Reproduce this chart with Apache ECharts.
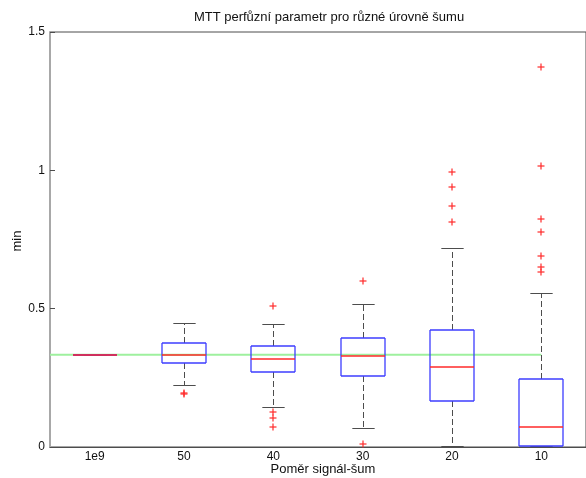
<!DOCTYPE html>
<html>
<head>
<meta charset="utf-8">
<script src="https://cdn.jsdelivr.net/npm/echarts@6/dist/echarts.min.js"></script>
<style>
html,body{margin:0;padding:0;background:#fff;}
#chart{width:586px;height:478px;}
</style>
</head>
<body>
<div id="chart"></div>
<script>
var categories = ['1e9', '50', '40', '30', '20', '10'];
var lowerWhisker = [0.333, 0.225, 0.143, 0.070, 0.003, 0.002];
var q1 = [0.333, 0.304, 0.272, 0.256, 0.168, 0.002];
var median = [0.333, 0.334, 0.318, 0.328, 0.289, 0.071];
var q3 = [0.333, 0.375, 0.364, 0.393, 0.422, 0.245];
var upperWhisker = [0.333, 0.447, 0.445, 0.517, 0.719, 0.556];
var outliers = [
  [1, 0.195], [1, 0.190],
  [2, 0.510], [2, 0.125], [2, 0.106], [2, 0.074],
  [3, 0.601], [3, 0.012],
  [4, 0.995], [4, 0.938], [4, 0.871], [4, 0.813],
  [5, 1.373], [5, 1.015], [5, 0.823], [5, 0.777], [5, 0.689], [5, 0.650], [5, 0.634]
];
var refValue = 0.333;
var refLineX = [0.5, 6];
var yTicks = [0, 0.5, 1, 1.5];

var titleText = 'MTT perfůzní parametr pro různé úrovně šumu';
var xName = 'Poměr signál-šum';
var yName = 'min';

var FONT = '"Liberation Sans", Arial, Helvetica, sans-serif';
var GREY = '#4d4d4d';
var BLUE = '#3d3dff';
var RED = '#ff2a2a';

var boxData = categories.map(function (c, i) {
  return [i, lowerWhisker[i], q1[i], median[i], q3[i], upperWhisker[i]];
});

var chart = echarts.init(document.getElementById('chart'));

function mkLine(x1, y1, x2, y2, color, width, dashed, z2) {
  var st = { stroke: color, lineWidth: width, fill: 'none' };
  if (dashed) { st.lineDash = [6, 3]; }
  return { type: 'line', z2: z2, shape: { x1: x1, y1: y1, x2: x2, y2: y2 }, style: st };
}

function boxRender(params, api) {
  var i = api.value(0);
  var band = api.size([1, 0])[0];
  var half = band * 0.25;
  var capHalf = band * 0.125;
  var xc = Math.round(api.coord([i, 0])[0]);
  var x = xc + 0.5;
  function yy(v) { return Math.round(api.coord([i, v])[1]); }
  var yLw = yy(api.value(1)), yQ1 = yy(api.value(2)), yMed = yy(api.value(3)),
      yQ3 = yy(api.value(4)), yUw = yy(api.value(5));
  var xl = Math.round(xc - half), xr = Math.round(xc + half);
  return {
    type: 'group',
    children: [
      mkLine(x, yQ3, x, yUw, GREY, 1, true, 1),
      mkLine(x, yQ1, x, yLw, GREY, 1, true, 1),
      mkLine(x - capHalf, yUw + 0.5, x + capHalf, yUw + 0.5, GREY, 1, false, 2),
      mkLine(x - capHalf, yLw + 0.5, x + capHalf, yLw + 0.5, GREY, 1, false, 2),
      mkLine(xl, yQ3, xr, yQ3, BLUE, 1.3, false, 3),
      mkLine(xl, yQ1, xr, yQ1, BLUE, 1.3, false, 3),
      mkLine(xl, yQ3, xl, yQ1, BLUE, 1.3, false, 3),
      mkLine(xr, yQ3, xr, yQ1, BLUE, 1.3, false, 3),
      mkLine(xl, yMed, xr, yMed, RED, 1.3, false, 4)
    ]
  };
}

function outlierRender(params, api) {
  var c = api.coord([api.value(0), api.value(1)]);
  var x = Math.round(c[0]), y = Math.round(c[1]);
  var s = 3.5;
  return {
    type: 'group',
    children: [
      mkLine(x - s, y, x + s, y, RED, 1.2, false, 1),
      mkLine(x, y - s, x, y + s, RED, 1.2, false, 1)
    ]
  };
}

var option = {
  backgroundColor: '#ffffff',
  animation: false,
  grid: {
    left: 50, right: -11, top: 32, bottom: 31,
    show: true, borderColor: GREY, borderWidth: 1, backgroundColor: 'transparent'
  },
  xAxis: [
    {
      type: 'category',
      data: categories,
      boundaryGap: true,
      axisLine: { lineStyle: { color: GREY, width: 1 } },
      axisTick: { show: false },
      axisLabel: { color: '#111', fontSize: 12, fontFamily: FONT, margin: 4 },
      splitLine: { show: false }
    },
    {
      type: 'value',
      min: 0.5,
      max: 6.5,
      show: false
    }
  ],
  yAxis: {
    type: 'value',
    min: yTicks[0],
    max: yTicks[yTicks.length - 1],
    interval: 0.5,
    axisLine: { show: true, lineStyle: { color: '#a8a8a8', width: 2 } },
    axisTick: { show: true, inside: true, length: 5, lineStyle: { color: GREY } },
    axisLabel: { color: '#111', fontSize: 12, fontFamily: FONT, margin: 5 },
    splitLine: { show: false }
  },
  series: [
    {
      type: 'line',
      xAxisIndex: 1,
      data: refLineX.map(function (x) { return [x, refValue]; }),
      symbol: 'none',
      silent: true,
      z: 1,
      lineStyle: { color: '#9ef09e', width: 2 }
    },
    {
      type: 'custom',
      xAxisIndex: 0,
      data: boxData,
      encode: { x: 0, y: [1, 2, 3, 4, 5] },
      renderItem: boxRender,
      z: 2,
      silent: true
    },
    {
      type: 'custom',
      xAxisIndex: 0,
      data: outliers,
      encode: { x: 0, y: 1 },
      renderItem: outlierRender,
      z: 3,
      silent: true
    }
  ],
  graphic: [
    { type: 'text', x: 329, y: 17, silent: true,
      style: { text: titleText, font: '13px ' + FONT, fill: '#111',
               align: 'center', verticalAlign: 'middle', textAlign: 'center', textVerticalAlign: 'middle' } },
    { type: 'text', x: 323, y: 469, silent: true,
      style: { text: xName, font: '13px ' + FONT, fill: '#111',
               align: 'center', verticalAlign: 'middle', textAlign: 'center', textVerticalAlign: 'middle' } },
    { type: 'text', x: 17, y: 241, rotation: Math.PI / 2, silent: true,
      style: { text: yName, font: '13px ' + FONT, fill: '#111',
               align: 'center', verticalAlign: 'middle', textAlign: 'center', textVerticalAlign: 'middle' } }
  ]
};

chart.setOption(option);
</script>
</body>
</html>
